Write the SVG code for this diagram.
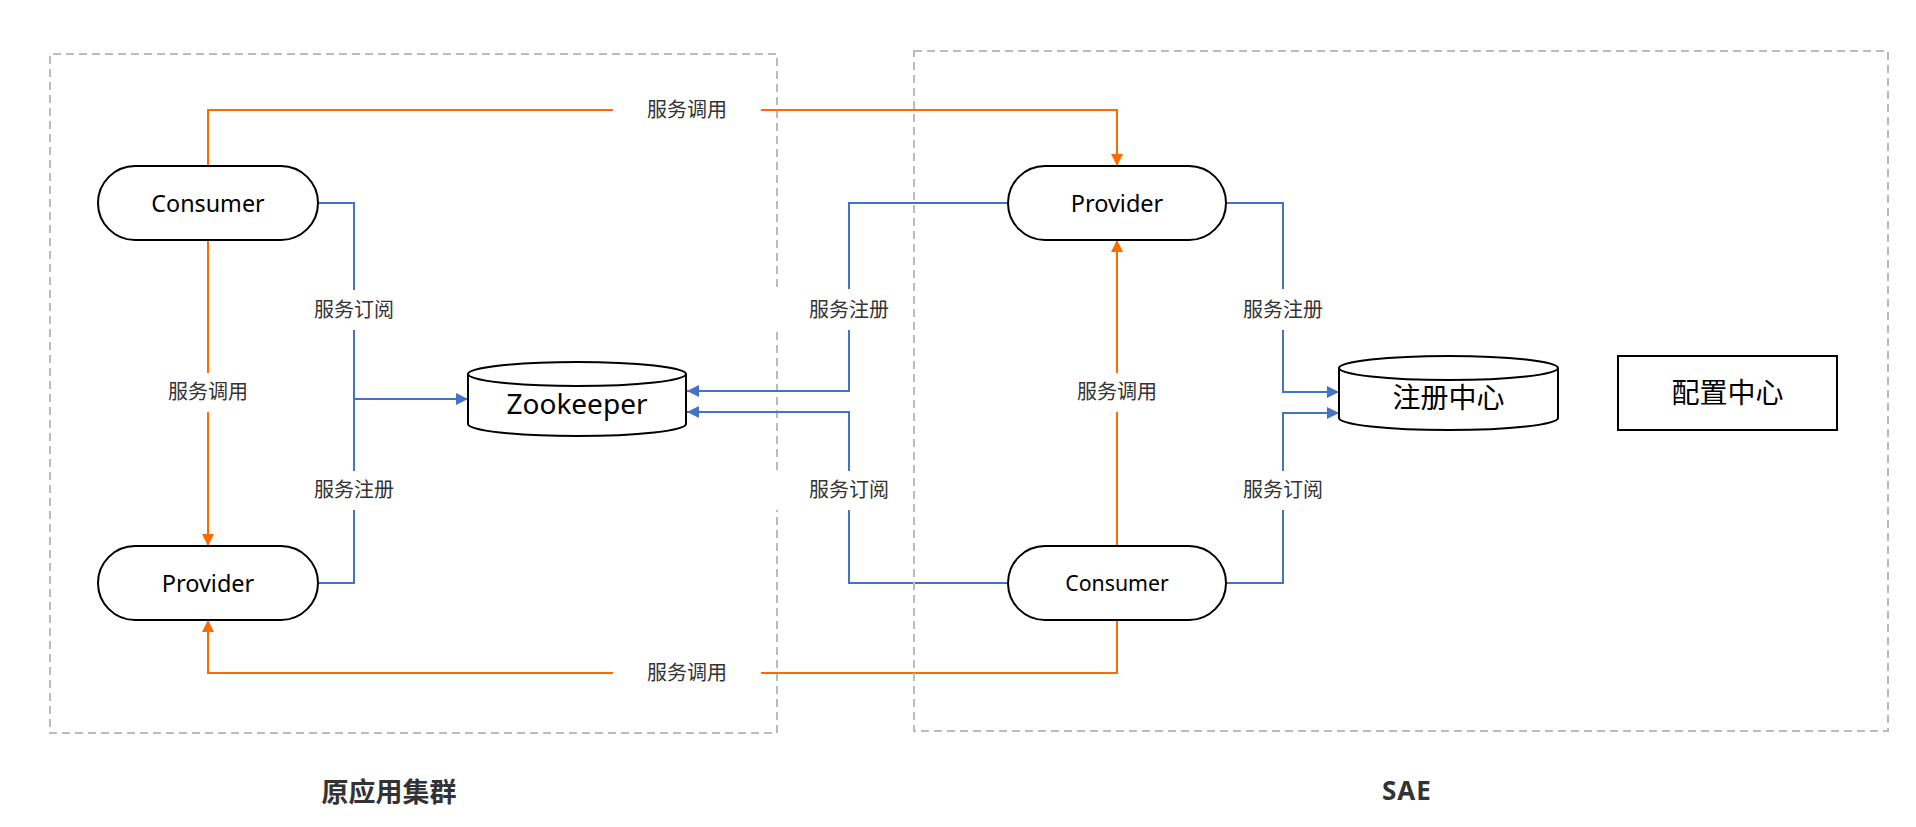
<svg xmlns="http://www.w3.org/2000/svg" width="1916" height="827" viewBox="0 0 1916 827">
<defs>
<style>
.zone{fill:none;stroke:#bbbbbb;stroke-width:2;stroke-dasharray:8 5}
.node{fill:#ffffff;stroke:#000000;stroke-width:2}
.nt{font-family:"Noto Sans","Open Sans",sans-serif;fill:#000000;text-anchor:middle}
.ct{font-family:"Noto Sans CJK SC",sans-serif;fill:#000000;text-anchor:middle;font-size:28px}
.or{fill:none;stroke:#ff6a00;stroke-width:2}
.bl{fill:none;stroke:#4472c4;stroke-width:2}
.lb{fill:#ffffff}
.lt{font-family:"Noto Sans CJK SC",sans-serif;font-size:20px;fill:#333333;text-anchor:middle}
.title{font-family:"Noto Sans","Noto Sans CJK SC",sans-serif;font-weight:bold;fill:#333333;text-anchor:middle}
</style>
<marker id="ao" markerUnits="userSpaceOnUse" markerWidth="13" markerHeight="13" viewBox="0 0 13 13" refX="12" refY="6.5" orient="auto">
<path d="M0,0.5 L12,6.5 L0,12.5 Z" fill="#ff6a00"/>
</marker>
<marker id="ab" markerUnits="userSpaceOnUse" markerWidth="13" markerHeight="13" viewBox="0 0 13 13" refX="12" refY="6.5" orient="auto">
<path d="M0,0.5 L12,6.5 L0,12.5 Z" fill="#4472c4"/>
</marker>
</defs>
<rect width="1916" height="827" fill="#ffffff"/>

<g id="zone-left">
<path class="zone" d="M777,287 V54 H50 V733 H777 V510 M777,470 V330"/>
</g>

<g id="connectors">
<path class="or" d="M208,166 V110 H1117 V166" marker-end="url(#ao)"/>
<path class="or" d="M208,240 V546" marker-end="url(#ao)"/>
<path class="or" d="M1117,620 V673 H208 V620" marker-end="url(#ao)"/>
<path class="or" d="M1117,546 V240" marker-end="url(#ao)"/>
<path class="bl" d="M318,203 H354 V399 H468" marker-end="url(#ab)"/>
<path class="bl" d="M318,583 H354 V399"/>
<path class="bl" d="M1008,203 H849 V391 H687" marker-end="url(#ab)"/>
<path class="bl" d="M1008,583 H849 V412 H687" marker-end="url(#ab)"/>
<path class="bl" d="M1226,203 H1283 V392 H1339" marker-end="url(#ab)"/>
<path class="bl" d="M1226,583 H1283 V413 H1339" marker-end="url(#ab)"/>
<g id="labels">
<rect class="lb" x="613" y="92" width="148" height="36"/>
<text class="lt" x="687" y="117">服务调用</text>
<rect class="lb" x="134" y="373" width="148" height="39"/>
<text class="lt" x="208" y="399">服务调用</text>
<rect class="lb" x="613" y="655" width="148" height="36"/>
<text class="lt" x="687" y="680">服务调用</text>
<rect class="lb" x="1043" y="373" width="148" height="39"/>
<text class="lt" x="1117" y="399">服务调用</text>
<rect class="lb" x="280" y="290" width="148" height="40"/>
<text class="lt" x="354" y="317">服务订阅</text>
<rect class="lb" x="280" y="471" width="148" height="39"/>
<text class="lt" x="354" y="497">服务注册</text>
<rect class="lb" x="775" y="289" width="148" height="41"/>
<text class="lt" x="849" y="317">服务注册</text>
<rect class="lb" x="775" y="471" width="148" height="39"/>
<text class="lt" x="849" y="497">服务订阅</text>
<rect class="lb" x="1209" y="289" width="148" height="41"/>
<text class="lt" x="1283" y="317">服务注册</text>
<rect class="lb" x="1209" y="471" width="148" height="39"/>
<text class="lt" x="1283" y="497">服务订阅</text>
</g>
</g>

<g id="zone-right">
<rect class="zone" x="914" y="51" width="974" height="680"/>
</g>

<g id="consumer-left">
<rect class="node" x="98" y="166" width="220" height="74" rx="37" ry="37"/>
<text class="nt" x="208" y="211.5" font-size="23.3">Consumer</text>
</g>
<g id="provider-left">
<rect class="node" x="98" y="546" width="220" height="74" rx="37" ry="37"/>
<text class="nt" x="208" y="591.5" font-size="23.5">Provider</text>
</g>
<g id="zookeeper">
<path class="node" d="M468,374 A109,12 0 0 1 686,374 L686,424 A109,12 0 0 1 468,424 Z"/>
<path class="node" fill="none" d="M468,374 A109,12 0 0 0 686,374"/>
<text class="nt" x="577" y="414" font-size="28">Zookeeper</text>
</g>
<g id="provider-right">
<rect class="node" x="1008" y="166" width="218" height="74" rx="37" ry="37"/>
<text class="nt" x="1117" y="211.5" font-size="23.5">Provider</text>
</g>
<g id="consumer-right">
<rect class="node" x="1008" y="546" width="218" height="74" rx="37" ry="37"/>
<text class="nt" x="1117" y="591" font-size="21.3">Consumer</text>
</g>
<g id="registry">
<path class="node" d="M1339,368 A109.5,12 0 0 1 1558,368 L1558,418 A109.5,12 0 0 1 1339,418 Z"/>
<path class="node" fill="none" d="M1339,368 A109.5,12 0 0 0 1558,368"/>
<text class="ct" x="1448.5" y="408">注册中心</text>
</g>
<g id="config-center">
<rect class="node" x="1618" y="356" width="219" height="74"/>
<text class="ct" x="1727.5" y="403">配置中心</text>
</g>

<g id="zone-titles">
<text class="title" x="389" y="802" font-size="27">原应用集群</text>
<text class="title" x="1407" y="800" font-size="26" letter-spacing="1">SAE</text>
</g>
</svg>
